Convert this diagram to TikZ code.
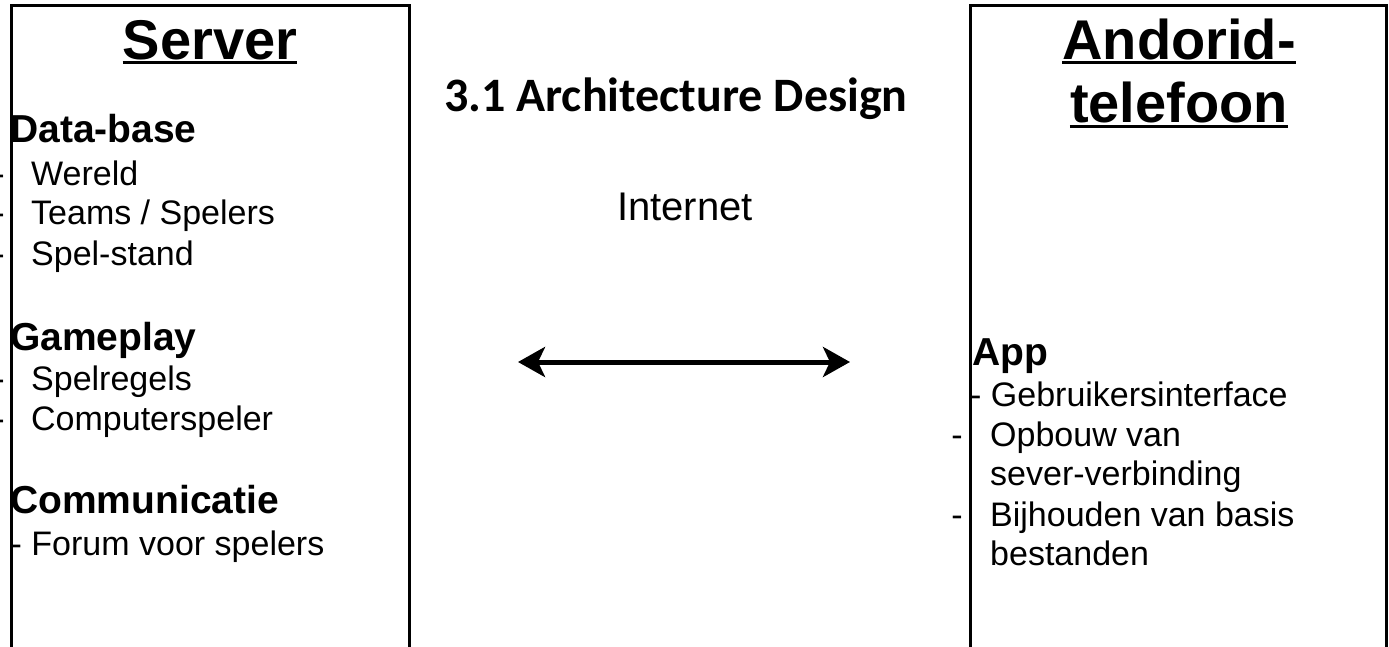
\documentclass[tikz,border=0pt]{standalone}
\usepackage{fontspec}
\setmainfont{Liberation Sans}
\newfontfamily\carlito{Carlito}
\usetikzlibrary{arrows.meta}

\begin{document}
\begin{tikzpicture}[x=1pt,y=-1pt,>={Stealth[length=27pt,width=30pt,inset=7pt]},
    item/.style={inner sep=0pt,anchor=base west,font=\fontsize{34}{40}\selectfont},
    bullet/.style={inner sep=0pt,anchor=base east,font=\fontsize{34}{40}\selectfont},
    part/.style={inner sep=0pt,anchor=base west,font=\fontsize{39}{45}\selectfont\bfseries},
    side/.style={inner sep=0pt,anchor=base,font=\fontsize{56}{63}\selectfont\bfseries},
    uline/.style={line width=3pt}]
    \useasboundingbox (0,0) rectangle (1389,647);
    \clip (0,0) rectangle (1389,647);
    % the two boxes, open at the bottom
    \draw[line width=3pt] (11,660) |- (409,5.5) -- (409,660);
    \draw[line width=3pt] (970,660) |- (1386,5.5) -- (1386,660);
    % server
    \node[side] (server) at (210,60) {Server};
    \draw[uline] ([yshift=-2.7pt]server.base west) -- ([yshift=-2.7pt]server.base east);
    \node[part] (db) at (10,143) {Data-base};
    \node[item] (wereld) at (31,186) {Wereld};
    \node[item] (teams) at (31,225) {Teams / Spelers};
    \node[item] (stand) at (31,265) {Spel-stand};
    \node[part] (game) at (10,350) {Gameplay};
    \node[item] (regels) at (31,390.5) {Spelregels};
    \node[item] (cpu) at (31,430) {Computerspeler};
    \node[part] (comm) at (10,513) {Communicatie};
    \node[item] (forum) at (10.5,555) {- Forum voor spelers};
    \foreach \yy [count=\i] in {186,225,265,390.5,430}
      \node[bullet] (ldash\i) at (4.8,\yy) {-};
    % phone
    \node[side] (andorid) at (1179,60) {Andorid-};
    \draw[uline] ([yshift=-2.7pt]andorid.base west) -- ([yshift=-2.7pt]andorid.base east);
    \node[side] (tel) at (1179,123) {telefoon};
    \draw[uline] ([yshift=-3.5pt]tel.base west) -- ([yshift=-3.5pt]tel.base east);
    \node[part] (app) at (972,365) {App};
    \node[item] (gui) at (970,406) {- Gebruikersinterface};
    \node[item] (opbouw) at (990,446.7) {Opbouw van};
    \node[item] (sever) at (990,485) {sever-verbinding};
    \node[item] (bijh) at (990,526) {Bijhouden van basis};
    \node[item] (best) at (990,565) {bestanden};
    \node[bullet] (rdash1) at (963,446.7) {-};
    \node[bullet] (rdash2) at (963,526) {-};
    % middle
    \node[inner sep=0pt,anchor=base west,font=\carlito\fontsize{48}{54}\selectfont\bfseries]
      (title) at (444,112) {3.1 Architecture Design};
    \node[inner sep=0pt,anchor=base,font=\fontsize{40}{46}\selectfont] (net) at (685,220) {Internet};
    \coordinate (netL) at (518,362);
    \coordinate (netR) at (850,362);
    \draw[<->,line width=5pt] (netL) -- (netR);
\end{tikzpicture}
\end{document}
